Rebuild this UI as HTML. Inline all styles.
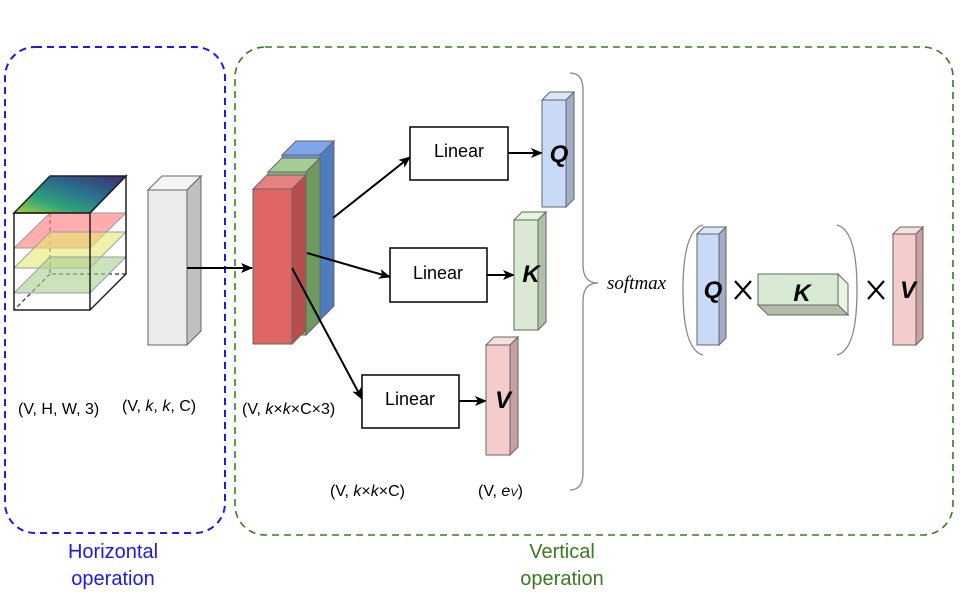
<!DOCTYPE html>
<html><head><meta charset="utf-8"><style>body{margin:0;background:#fff}svg{display:block}text{font-family:"Liberation Sans",sans-serif}</style></head>
<body>
<svg width="960" height="600" viewBox="0 0 960 600" xmlns="http://www.w3.org/2000/svg">
<defs>
<marker id="a" markerWidth="12" markerHeight="10" refX="11" refY="5" orient="auto" markerUnits="userSpaceOnUse"><path d="M0,0 L12,5 L0,10 L3,5 z" fill="#000"/></marker>
<linearGradient id="g" x1="0" y1="1" x2="1" y2="0"><stop offset="0" stop-color="#a8d23a"/><stop offset="0.3" stop-color="#2fa27a"/><stop offset="0.6" stop-color="#2a6f8e"/><stop offset="1" stop-color="#402a6e"/></linearGradient>
</defs>
<rect x="5" y="47" width="220" height="486" rx="30" fill="none" stroke="#1a1aee" stroke-width="2" stroke-dasharray="7,5"/>
<rect x="235" y="47" width="718" height="488" rx="30" fill="none" stroke="#3a7a20" stroke-width="1.6" stroke-dasharray="7,5"/>
<text x="113" y="558" font-size="20" fill="#1a1aee" text-anchor="middle">Horizontal</text>
<text x="113" y="585" font-size="20" fill="#1a1aee" text-anchor="middle">operation</text>
<text x="562" y="558" font-size="20" fill="#3a7a20" text-anchor="middle">Vertical</text>
<text x="562" y="585" font-size="20" fill="#3a7a20" text-anchor="middle">operation</text>
<polygon points="14,213 90,213 126,176 50,176" fill="url(#g)" stroke="#222" stroke-width="1.5"/>
<path d="M50,213 V274 H126 M50,274 L14,310" stroke="#333" stroke-width="1.3" stroke-dasharray="4,3" fill="none"/>
<polygon points="14,248 90,248 126,213 50,213" fill="#ff8a8a" fill-opacity="0.7" stroke="#99a" stroke-width="1"/>
<polygon points="14,268 90,268 126,232 50,232" fill="#e8e870" fill-opacity="0.6" stroke="#99a" stroke-width="1"/>
<polygon points="14,293 90,293 126,257 50,257" fill="#a8d090" fill-opacity="0.6" stroke="#99a" stroke-width="1"/>
<path d="M14,213 H90 V310 H14 Z M90,213 L126,176 V274 L90,310" fill="none" stroke="#222" stroke-width="1.5"/>
<polygon points="148,190 187,190 201,176 162,176" fill="#f5f5f5" stroke="#666"/>
<polygon points="187,190 201,176 201,331 187,345" fill="#c0c0c0" stroke="#666"/>
<rect x="148" y="190" width="39" height="155" fill="#ececec" stroke="#666"/>
<line x1="187" y1="268" x2="252" y2="268" stroke="#000" stroke-width="2" marker-end="url(#a)"/>
<polygon points="282,155 320,155 334,141 296,141" fill="#7fa6e8" stroke="#666"/>
<polygon points="320,155 334,141 334,306 320,320" fill="#4f7bbf" stroke="#666"/>
<rect x="282" y="155" width="38" height="165" fill="#6c94d8" stroke="#666"/>
<polygon points="268,172 306,172 320,158 282,158" fill="#a6cc94" stroke="#666"/>
<polygon points="306,172 320,158 320,321 306,335" fill="#6f9a5e" stroke="#666"/>
<rect x="268" y="172" width="38" height="163" fill="#8bb57a" stroke="#666"/>
<polygon points="253,189 292,189 306,175 267,175" fill="#e88080" stroke="#666"/>
<polygon points="292,189 306,175 306,330 292,344" fill="#b84d4d" stroke="#666"/>
<rect x="253" y="189" width="39" height="155" fill="#e06666" stroke="#666"/>
<line x1="333" y1="218" x2="410" y2="157" stroke="#000" stroke-width="2" marker-end="url(#a)"/>
<line x1="307" y1="253" x2="390" y2="277" stroke="#000" stroke-width="2" marker-end="url(#a)"/>
<line x1="292" y1="268" x2="362" y2="399" stroke="#000" stroke-width="2" marker-end="url(#a)"/>
<rect x="410" y="127" width="98" height="53" fill="#fff" stroke="#000" stroke-width="1.5"/>
<text x="459" y="157" font-size="18" text-anchor="middle">Linear</text>
<rect x="390" y="248" width="97" height="54" fill="#fff" stroke="#000" stroke-width="1.5"/>
<text x="438" y="279" font-size="18" text-anchor="middle">Linear</text>
<rect x="362" y="375" width="97" height="53" fill="#fff" stroke="#000" stroke-width="1.5"/>
<text x="410" y="405" font-size="18" text-anchor="middle">Linear</text>
<line x1="508" y1="153" x2="542" y2="153" stroke="#000" stroke-width="2" marker-end="url(#a)"/>
<line x1="487" y1="275" x2="514" y2="275" stroke="#000" stroke-width="2" marker-end="url(#a)"/>
<line x1="459" y1="401" x2="486" y2="401" stroke="#000" stroke-width="2" marker-end="url(#a)"/>
<polygon points="542,100 566,100 574,92 550,92" fill="#dbe6fb" stroke="#666"/>
<polygon points="566,100 574,92 574,199 566,207" fill="#a0aec8" stroke="#666"/>
<rect x="542" y="100" width="24" height="107" fill="#c9daf8" stroke="#666"/>
<text x="559" y="162" font-size="24" font-weight="bold" font-style="italic" text-anchor="middle">Q</text>
<polygon points="514,220 538,220 546,212 522,212" fill="#e8f3e0" stroke="#666"/>
<polygon points="538,220 546,212 546,322 538,330" fill="#b0c0a8" stroke="#666"/>
<rect x="514" y="220" width="24" height="110" fill="#d9ead3" stroke="#666"/>
<text x="531" y="282" font-size="24" font-weight="bold" font-style="italic" text-anchor="middle">K</text>
<polygon points="486,345 510,345 518,337 494,337" fill="#f8dede" stroke="#666"/>
<polygon points="510,345 518,337 518,447 510,455" fill="#c8a0a0" stroke="#666"/>
<rect x="486" y="345" width="24" height="110" fill="#f4cccc" stroke="#666"/>
<text x="503" y="408" font-size="24" font-weight="bold" font-style="italic" text-anchor="middle">V</text>
<path d="M570,73 Q583,73 583,90 V265 Q583,283 598,283 Q583,283 583,301 V473 Q583,490 570,490" fill="none" stroke="#888" stroke-width="1.3"/>
<text x="607" y="289" font-size="19" style="font-family:'Liberation Serif',serif;font-style:italic">softmax</text>
<path d="M703,225 Q683,230 683,290 Q683,350 703,355" fill="none" stroke="#888" stroke-width="1.3"/>
<path d="M837,225 Q857,230 857,290 Q857,350 837,355" fill="none" stroke="#888" stroke-width="1.3"/>
<polygon points="697,234 719,234 726,227 704,227" fill="#dbe6fb" stroke="#666"/>
<polygon points="719,234 726,227 726,338 719,345" fill="#a0aec8" stroke="#666"/>
<rect x="697" y="234" width="22" height="111" fill="#c9daf8" stroke="#666"/>
<text x="713" y="298" font-size="24" font-weight="bold" font-style="italic" text-anchor="middle">Q</text>
<path d="M735,281 L751,299 M751,281 L735,299" stroke="#000" stroke-width="2.2"/>
<polygon points="838,274 848,284 848,315 838,305" fill="#e8f3e0" stroke="#666"/>
<polygon points="758,305 838,305 848,315 768,315" fill="#b0bca8" stroke="#666"/>
<rect x="758" y="274" width="80" height="31" fill="#d9ead3" stroke="#666"/>
<text x="802" y="301" font-size="24" font-weight="bold" font-style="italic" text-anchor="middle">K</text>
<path d="M868,281 L884,299 M884,281 L868,299" stroke="#000" stroke-width="2.2"/>
<polygon points="893,234 916,234 923,227 900,227" fill="#f8dede" stroke="#666"/>
<polygon points="916,234 923,227 923,338 916,345" fill="#c8a0a0" stroke="#666"/>
<rect x="893" y="234" width="23" height="111" fill="#f4cccc" stroke="#666"/>
<text x="908" y="298" font-size="24" font-weight="bold" font-style="italic" text-anchor="middle">V</text>
<text x="18" y="414" font-size="16">(V, H, W, 3)</text>
<text x="122" y="411" font-size="16">(V, <tspan font-style="italic">k</tspan>, <tspan font-style="italic">k</tspan>, C)</text>
<text x="242" y="414" font-size="16">(V, <tspan font-style="italic">k</tspan>×<tspan font-style="italic">k</tspan>×C×3)</text>
<text x="330" y="496" font-size="16">(V, <tspan font-style="italic">k</tspan>×<tspan font-style="italic">k</tspan>×C)</text>
<text x="478" y="496" font-size="16">(V, <tspan font-style="italic">e</tspan><tspan font-size="11" font-style="italic">V</tspan>)</text>
</svg>
</body></html>
